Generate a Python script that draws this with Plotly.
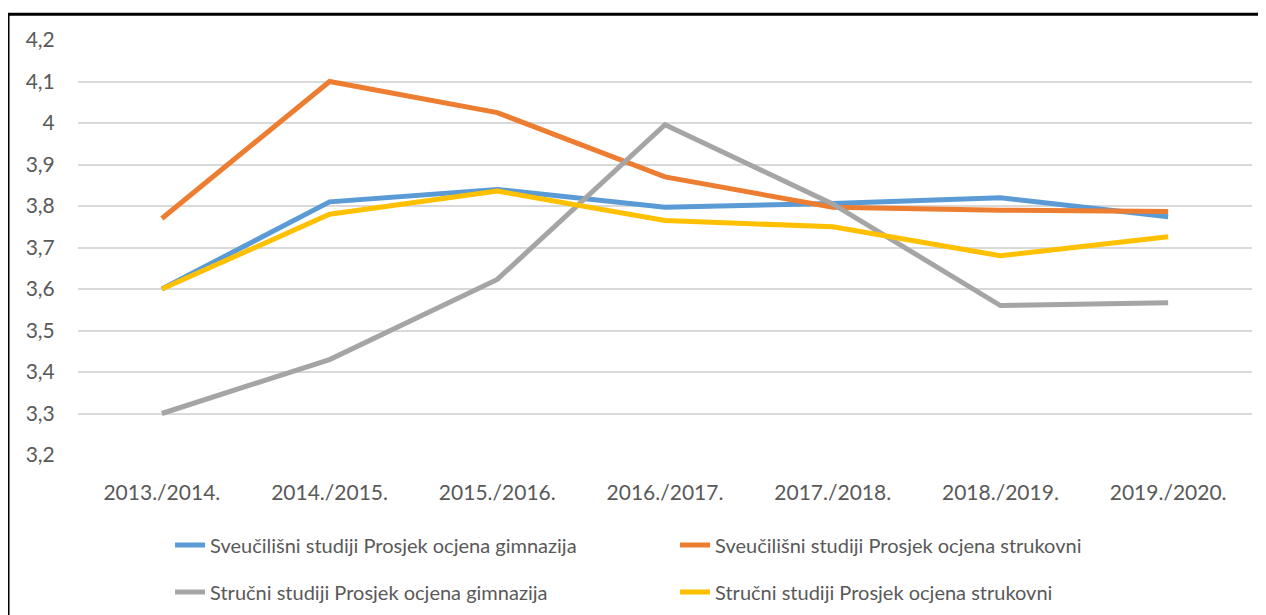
import plotly.graph_objects as go

categories = ["2013./2014.", "2014./2015.", "2015./2016.", "2016./2017.",
              "2017./2018.", "2018./2019.", "2019./2020."]
sveuc_gimnazija = [3.60, 3.81, 3.84, 3.797, 3.806, 3.82, 3.774]
sveuc_strukovni = [3.77, 4.10, 4.025, 3.87, 3.797, 3.79, 3.787]
strucni_gimnazija = [3.30, 3.43, 3.623, 3.996, 3.805, 3.56, 3.567]
strucni_strukovni = [3.60, 3.78, 3.836, 3.765, 3.75, 3.68, 3.726]
series_names = ["Sveučilišni studiji Prosjek ocjena gimnazija",
                "Sveučilišni studiji Prosjek ocjena strukovni",
                "Stručni studiji Prosjek ocjena gimnazija",
                "Stručni studiji Prosjek ocjena strukovni"]
y_tick_vals = [3.2, 3.3, 3.4, 3.5, 3.6, 3.7, 3.8, 3.9, 4.0, 4.1, 4.2]
y_tick_text = ["3,2", "3,3", "3,4", "3,5", "3,6", "3,7", "3,8", "3,9", "4", "4,1", "4,2"]

colors = ["#5B9BD5", "#ED7D31", "#A5A5A5", "#FFC000"]
data = [sveuc_gimnazija, sveuc_strukovni, strucni_gimnazija, strucni_strukovni]
legends = ["legend", "legend", "legend2", "legend2"]

fig = go.Figure()
for name, vals, col, lg in zip(series_names, data, colors, legends):
    fig.add_trace(go.Scatter(x=categories, y=vals, name=name, mode="lines",
                             line=dict(color=col, width=5), legend=lg))

font_family = "Lato, 'Open Sans', sans-serif"
legend_common = dict(orientation="h", x=0.0784, xanchor="left", yanchor="middle",
                     entrywidth=460, entrywidthmode="pixels",
                     font=dict(size=20, color="#595959"), bgcolor="rgba(0,0,0,0)")
fig.update_layout(
    width=1266, height=615,
    margin=dict(l=70, r=22, t=32, b=165),
    paper_bgcolor="white", plot_bgcolor="white",
    font=dict(family=font_family, size=21, color="#595959"),
    legend=dict(y=-0.217, **legend_common),
    legend2=dict(y=-0.330, **legend_common),
    showlegend=True,
)
fig.update_xaxes(type="category", showgrid=False, showline=False, zeroline=False,
                 ticks="outside", ticklen=19, tickcolor="rgba(0,0,0,0)",
                 tickfont=dict(size=21, color="#595959"),
                 range=[-0.5, 6.5])
fig.update_yaxes(range=[3.2, 4.2], tickvals=y_tick_vals, ticktext=y_tick_text,
                 showgrid=True, gridcolor="#d9d9d9", gridwidth=1.5, zeroline=False,
                 ticks="outside", ticklen=18, tickcolor="rgba(0,0,0,0)",
                 tickfont=dict(size=21, color="#595959"))
# outer frame of the chart (extends past the right and bottom edges)
fig.add_shape(type="rect", xref="paper", yref="paper",
              x0=-0.0596, x1=1.05, y0=-0.42, y1=1.062,
              line=dict(color="black", width=3), fillcolor="rgba(0,0,0,0)", layer="below")
fig.write_html("out.html")
